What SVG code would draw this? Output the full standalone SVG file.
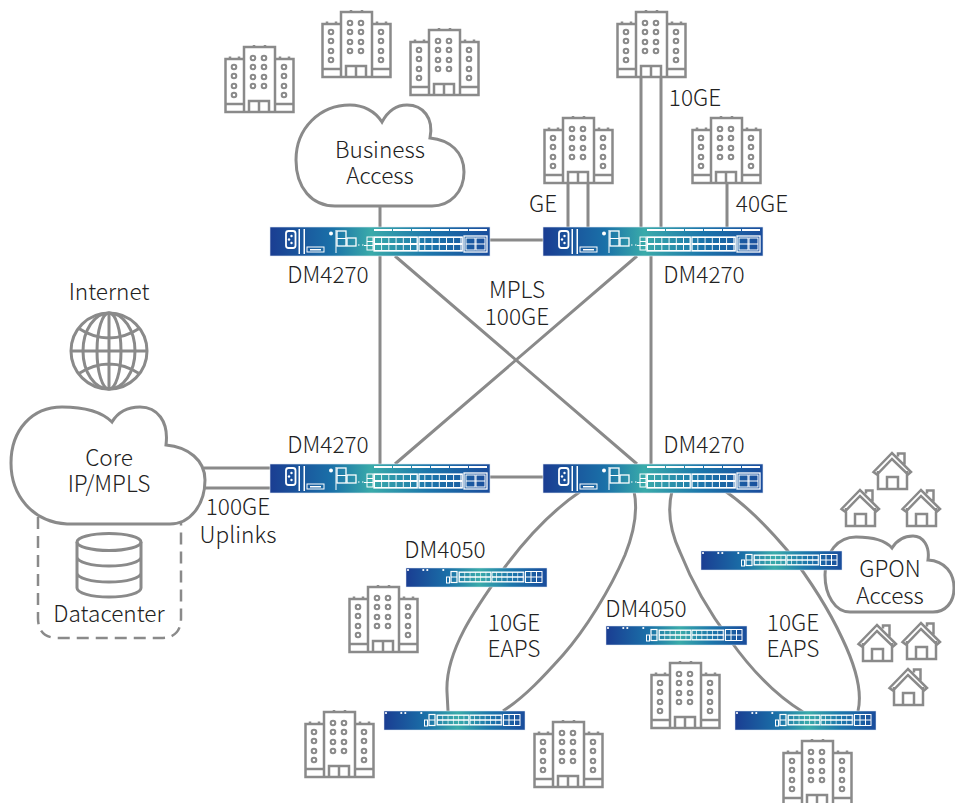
<svg xmlns="http://www.w3.org/2000/svg" width="955" height="803" viewBox="0 0 955 803">
<style>
.l{fill:none;stroke:#8a8a8a;stroke-width:3}
.i{fill:none;stroke:#8a8a8a;stroke-width:2.5}
.c{fill:#fff;stroke:#8a8a8a;stroke-width:3}
.t{font-family:"Noto Sans CJK SC","Noto Sans",sans-serif;font-weight:300;font-size:22.6px;fill:#222;text-anchor:middle}
.w{fill:none;stroke:#fff;stroke-width:1}
.f{fill:#fff}
</style>
<defs>
<linearGradient id="gl"><stop offset="0" stop-color="#1a3d92"/><stop offset=".28" stop-color="#1a70a8"/><stop offset=".46" stop-color="#3aabaa"/><stop offset=".72" stop-color="#1c76ab"/><stop offset="1" stop-color="#1a4c9c"/></linearGradient>
<linearGradient id="gs"><stop offset="0" stop-color="#1a3d92"/><stop offset=".3" stop-color="#1a70a8"/><stop offset=".52" stop-color="#3aabaa"/><stop offset=".75" stop-color="#1c76ab"/><stop offset="1" stop-color="#1a4c9c"/></linearGradient>
<pattern id="pl" width="7.2" height="7" patternUnits="userSpaceOnUse" x="104" y="10"><path d="M0 0H7.2M0 7H7.2M0 0V7" stroke="#fff" stroke-width="1.800" fill="none"/></pattern>
<pattern id="ps" width="5.3" height="5" patternUnits="userSpaceOnUse" x="53" y="4"><path d="M0 0H5.3M0 5H5.3M0 0V5" stroke="#fff" stroke-width="1.300" fill="none"/></pattern>
<g id="sw">
<rect width="220" height="29" fill="url(#gl)" stroke="#dfe8f2" stroke-width=".6"/>
<path class="f" d="M28.500 2h1.500v25h-1.500zM33.500 2h1.500v25h-1.500zM65.500 3h1v23h-1z"/>
<rect class="w" x="16" y="4" width="9.500" height="17" rx="2.500" stroke-width="1.800" style="stroke-width:1.800"/>
<circle class="f" cx="21.500" cy="9" r="1.200"/><circle class="f" cx="21.500" cy="16" r="1.200"/><circle class="f" cx="19" cy="12.500" r="1.200"/>
<rect class="w" x="37" y="20" width="17" height="5"/><rect class="f" x="40" y="22" width="11" height="1.500"/>
<circle class="f" cx="61" cy="6.500" r="2"/>
<rect class="w" x="67" y="4" width="9" height="15" style="stroke-width:1.300"/><path class="w" d="M67 11.500h9"/>
<rect class="w" x="77" y="11" width="9" height="8" style="stroke-width:1.300"/>
<rect class="f" x="88" y="17.500" width="1.500" height="1"/><rect class="f" x="92" y="17.500" width="1.500" height="1"/>
<rect class="w" x="97" y="10" width="6" height="13"/><path class="w" d="M97 14.500h6M97 18.500h6M94 18.500h3"/>
<rect x="104" y="10" width="43.200" height="14" fill="url(#pl)" stroke="#fff" stroke-width="1.300"/>
<rect x="149" y="10" width="43.200" height="14" fill="url(#pl)" stroke="#fff" stroke-width="1.300"/>
<rect class="w" x="194" y="9" width="23" height="16" style="stroke-width:1.300"/>
<rect class="w" x="196" y="11" width="9" height="12"/><rect class="w" x="206" y="11" width="9" height="12"/><path class="w" d="M196 17h19"/>
<path class="f" d="M104 2h18v2h-18zM123 2h18v2h-18zM142 2h18v2h-18zM161 2h18v2h-18zM180 2h18v2h-18zM199 2h18v2h-18z"/>
</g>
<g id="ss">
<rect width="141" height="19" fill="url(#gs)" stroke="#dfe8f2" stroke-width=".5"/>
<circle class="f" cx="2" cy="2" r="1.100"/><circle class="f" cx="17.300" cy="2" r="1.100"/><circle class="f" cx="21.300" cy="2" r="1.100"/><circle class="f" cx="37.300" cy="2" r="1.100"/>
<rect class="w" x="40.500" y="9" width="3" height="6"/>
<rect class="w" x="45" y="3.500" width="6" height="11" style="stroke-width:1.200"/><path class="w" d="M45 9h6"/>
<rect x="53" y="4" width="31.800" height="10" fill="url(#ps)" stroke="#fff"/>
<rect x="86" y="4" width="31.800" height="10" fill="url(#ps)" stroke="#fff"/>
<rect x="119.500" y="3.500" width="16.500" height="11" fill="none" stroke="#fff"/><path class="w" d="M125 3.500v11M130.500 3.500v11M119.500 9h16.500"/>
</g>
<g id="bd" class="i">
<path d="M20 14H1.500V67H69.500V14H51M20 67V2H51V67M1.500 59H20M51 59H69.500M25 67V56H45V67M35 56V67M6 14V11.500M15 14V11.500M56 14V11.500M65 14V11.500M30 2V0M41 2V0"/>
<g stroke-width="2"><circle cx="10" cy="22" r="2.300"/><circle cx="10" cy="31" r="2.300"/><circle cx="10" cy="41" r="2.300"/><circle cx="10" cy="50" r="2.300"/><circle cx="60" cy="22" r="2.300"/><circle cx="60" cy="31" r="2.300"/><circle cx="60" cy="41" r="2.300"/><circle cx="60" cy="50" r="2.300"/><circle cx="29" cy="13" r="2.300"/><circle cx="40" cy="13" r="2.300"/><circle cx="29" cy="22" r="2.300"/><circle cx="40" cy="22" r="2.300"/><circle cx="29" cy="32" r="2.300"/><circle cx="40" cy="32" r="2.300"/><circle cx="29" cy="41" r="2.300"/><circle cx="40" cy="41" r="2.300"/></g>
</g>
<g id="hs" class="i"><path d="M1.500 22L20 3 39 22l-3 2.500L20 9 5 24.500zM26 6.500V3.500h6.500v11M6 21V39H35V21M15 39V27h11v12"/></g>
</defs>
<g id="connectors" class="l">
<path d="M380 207V227M490 240H543M380 256V464M651 256V464M395 256L637 464M637 256L395 464M490 477H543"/>
<path d="M204 468H270M204 488H270M641 78V227M661 78V227M568 183V227M588 183V227M727 183V227"/>
<path d="M581 491C550 512 525 540 505 567C478 605 445 650 447 692L448 711"/>
<path d="M634 491C638 510 635 530 625 555C610 590 585 630 563 655C545 675 525 697 503 711"/>
<path d="M672 491C666 515 672 535 680 552C695 590 715 620 730 640C750 668 775 695 803 712"/>
<path d="M725 491C750 508 770 530 787 550C810 580 830 612 842 638C855 665 863 690 858 711"/>
</g>
<g id="datacenter">
<path d="M38 517V618Q38 638 58 638H161Q181 638 181 618V522" fill="none" stroke="#8a8a8a" stroke-width="2.500" stroke-dasharray="12 7"/>
<g class="i" style="stroke-width:3"><ellipse cx="109" cy="542" rx="32" ry="8.500"/><path d="M77 542V588A32 9 0 0 0 141 588V542M77 557A32 9 0 0 0 141 557M77 573A32 9 0 0 0 141 573"/></g>
<text class="t" x="109" y="622">Datacenter</text>
</g>
<g id="core"><path class="c" d="M67 524C32 522 11 495 11 463C11 430 32 407 62 407C85 407 102 412 112 422C118 412 128 407 140 407C157 407 169 421 166 445C188 447 205 460 205 480C205 505 190 524 170 524Z"/><text class="t" x="109" y="466">Core</text><text class="t" x="109" y="492">IP/MPLS</text></g>
<g id="business"><path class="c" d="M335 206C312 206 296 188 296 160C296 128 320 105 350 105C363 105 375 111 382 122C388 111 396 105 407 105C423 105 434 118 430 138C450 140 464 152 464 172C464 192 450 206 432 206Z"/><text class="t" x="380" y="158">Business</text><text class="t" x="380" y="184">Access</text></g>
<g id="gpon"><path class="c" d="M850 612C835 612 825 595 825 575C825 552 838 537 856 537C870 537 885 540 892 548C897 540 905 536 913 536C923 536 930 546 928 560C945 561 954 573 954 588C954 603 945 612 933 612Z"/><text class="t" x="890" y="577">GPON</text><text class="t" x="890" y="604">Access</text></g>
<g id="internet"><g class="i" style="stroke-width:3"><circle cx="109" cy="351" r="38"/><ellipse cx="109" cy="351" rx="26" ry="38"/><ellipse cx="109" cy="351" rx="12" ry="38"/><path d="M71 351H147M109 313V389M78 328Q109 348 140 328M78 374Q109 354 140 374"/></g><text class="t" x="109" y="300">Internet</text></g>
<g id="b1"><use href="#bd" x="224" y="45"/></g>
<g id="b2"><use href="#bd" x="321" y="10"/></g>
<g id="b3"><use href="#bd" x="409" y="28"/></g>
<g id="b4"><use href="#bd" x="616" y="10"/></g>
<g id="b5"><use href="#bd" x="543" y="116"/></g>
<g id="b6"><use href="#bd" x="691" y="116"/></g>
<g id="b7"><use href="#bd" x="348" y="585"/></g>
<g id="b8"><use href="#bd" x="304" y="710"/></g>
<g id="b9"><use href="#bd" x="533" y="720"/></g>
<g id="b10"><use href="#bd" x="650" y="661"/></g>
<g id="b11"><use href="#bd" x="782" y="739"/></g>
<g id="h1"><use href="#hs" x="872" y="450"/></g>
<g id="h2"><use href="#hs" x="840" y="487"/></g>
<g id="h3"><use href="#hs" x="901" y="487"/></g>
<g id="h4"><use href="#hs" x="857" y="622"/></g>
<g id="h5"><use href="#hs" x="901" y="620"/></g>
<g id="h6"><use href="#hs" x="888" y="666"/></g>
<g id="sw1"><use href="#sw" x="270" y="227"/><text class="t" x="328" y="283">DM4270</text></g>
<g id="sw2"><use href="#sw" x="543" y="227"/><text class="t" x="704" y="283">DM4270</text></g>
<g id="sw3"><use href="#sw" x="270" y="464"/><text class="t" x="328" y="453">DM4270</text></g>
<g id="sw4"><use href="#sw" x="543" y="464"/><text class="t" x="704" y="453">DM4270</text></g>
<g id="sm1"><use href="#ss" x="406" y="568"/><text class="t" x="445" y="558">DM4050</text></g>
<g id="sm2"><use href="#ss" x="606" y="626"/><text class="t" x="646" y="617">DM4050</text></g>
<g id="sm3"><use href="#ss" x="384" y="711"/></g>
<g id="sm4"><use href="#ss" x="735" y="711"/></g>
<g id="sm5"><use href="#ss" x="701" y="551"/></g>
<g id="labels">
<text class="t" x="517" y="298">MPLS</text><text class="t" x="517" y="325">100GE</text>
<text class="t" x="543" y="212">GE</text><text class="t" x="695" y="106">10GE</text><text class="t" x="762" y="212">40GE</text>
<text class="t" x="238" y="515">100GE</text><text class="t" x="238" y="543">Uplinks</text>
<text class="t" x="514" y="631">10GE</text><text class="t" x="514" y="657">EAPS</text>
<text class="t" x="793" y="631">10GE</text><text class="t" x="793" y="657">EAPS</text>
</g>
</svg>
